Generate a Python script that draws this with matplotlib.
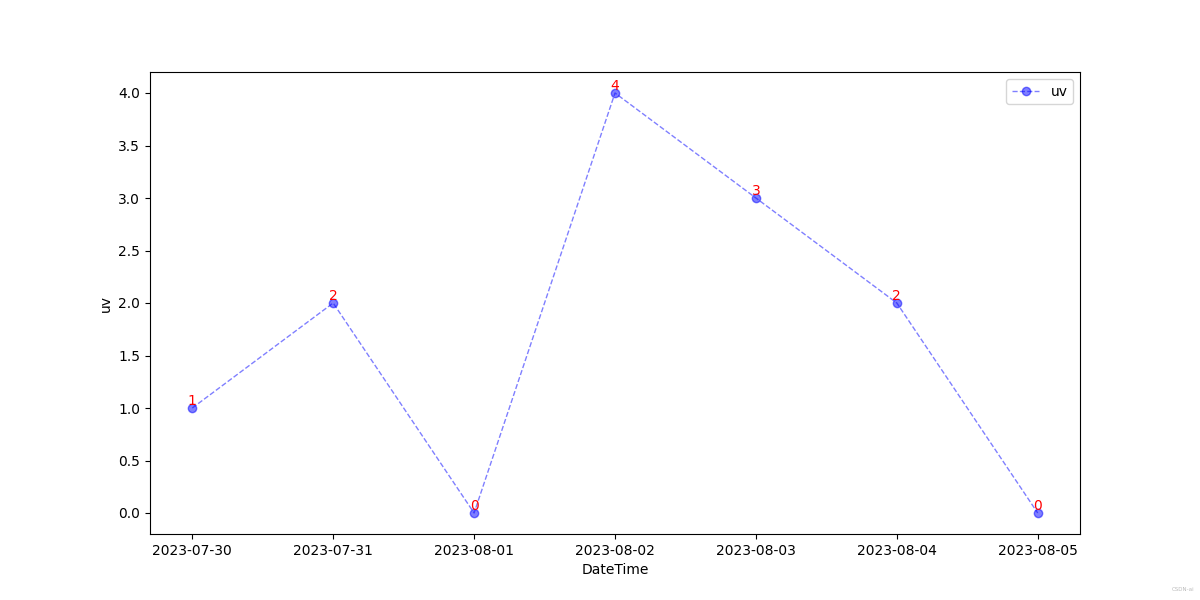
import matplotlib
matplotlib.use("Agg")
import matplotlib.pyplot as plt
import pandas as pd

dates = ["2023-07-30", "2023-07-31", "2023-08-01", "2023-08-02",
         "2023-08-03", "2023-08-04", "2023-08-05"]
uv = [1, 2, 0, 4, 3, 2, 0]

x = pd.to_datetime(dates)

fig = plt.figure(figsize=(12, 6), dpi=100)
plt.plot(x, uv, color='blue', linestyle='--', linewidth=1, marker='o',
         alpha=0.5, label='uv')
for a, b in zip(x, uv):
    plt.text(a, b, str(b), color='red', ha='center', va='bottom', fontsize=10)

plt.xlabel("DateTime")
plt.ylabel("uv")
plt.legend(loc='upper right')
fig.text(0.995, 0.015, "CSDN-ai", color='#bbbbbb', fontsize=4, ha='right')
plt.savefig("out.png")
